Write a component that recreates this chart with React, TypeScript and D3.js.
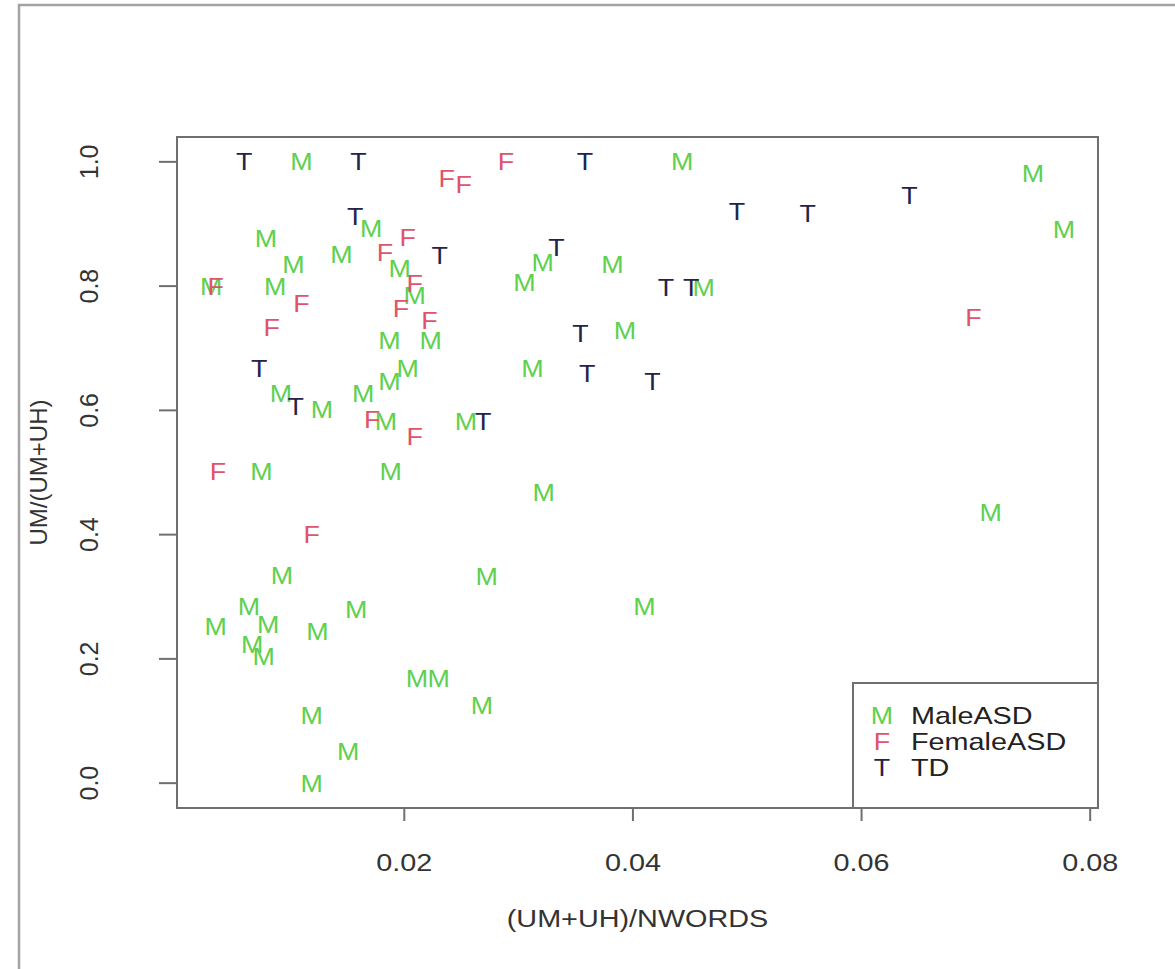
import * as d3 from "d3";

// points: [ (UM+UH)/NWORDS , UM/(UM+UH) ]
const maleASD: [number, number][] = [
  [0.011, 1.0], [0.0443, 1.0], [0.075, 0.981], [0.0777, 0.891],
  [0.0171, 0.893], [0.0079, 0.877], [0.0145, 0.851], [0.0103, 0.835],
  [0.0196, 0.829], [0.0031, 0.8], [0.0087, 0.8], [0.0209, 0.785],
  [0.0321, 0.838], [0.0382, 0.835], [0.0305, 0.806], [0.0462, 0.798],
  [0.0393, 0.729], [0.0312, 0.667], [0.0187, 0.712], [0.0223, 0.712],
  [0.0203, 0.668], [0.0187, 0.647], [0.0164, 0.628], [0.0092, 0.628],
  [0.0128, 0.601], [0.0184, 0.583], [0.0254, 0.582], [0.0075, 0.502],
  [0.0188, 0.502], [0.0322, 0.468], [0.0713, 0.436], [0.0093, 0.335],
  [0.0272, 0.333], [0.041, 0.285], [0.0064, 0.285], [0.0158, 0.279],
  [0.0035, 0.253], [0.0081, 0.256], [0.0124, 0.244], [0.0067, 0.224],
  [0.0077, 0.204], [0.0211, 0.168], [0.023, 0.168], [0.0268, 0.125],
  [0.0119, 0.109], [0.0151, 0.051], [0.0119, 0.0],
];

const femaleASD: [number, number][] = [
  [0.0237, 0.974], [0.0252, 0.963], [0.0289, 1.0], [0.0203, 0.878],
  [0.0183, 0.854], [0.0035, 0.8], [0.0209, 0.804], [0.011, 0.772],
  [0.0084, 0.734], [0.0197, 0.764], [0.0222, 0.745], [0.0172, 0.585],
  [0.0209, 0.558], [0.0037, 0.502], [0.0119, 0.401], [0.0698, 0.75],
];

const td: [number, number][] = [
  [0.006, 1.0], [0.016, 1.0], [0.0358, 1.0], [0.0157, 0.912],
  [0.0231, 0.849], [0.0333, 0.862], [0.0491, 0.92], [0.0553, 0.917],
  [0.0642, 0.946], [0.0429, 0.798], [0.0451, 0.798], [0.0354, 0.724],
  [0.036, 0.66], [0.0417, 0.647], [0.0073, 0.668], [0.0105, 0.606],
  [0.0269, 0.582],
];

const xTicks = [0.02, 0.04, 0.06, 0.08];
const yTicks = [0, 0.2, 0.4, 0.6, 0.8, 1.0];

const groups = [
  { key: "M", label: "MaleASD", color: "#5fd04f", pts: maleASD },
  { key: "F", label: "FemaleASD", color: "#df536b", pts: femaleASD },
  { key: "T", label: "TD", color: "#23234a", pts: td },
];

const W = 1175;
const H = 969;
const BOX = { left: 177, right: 1098, top: 137, bottom: 808 };
const FONT = "'Liberation Sans', Arial, Helvetica, sans-serif";
const SX = 1.2; // the picture is stretched sideways

// R style axis range: data extent plus 4% each side
function padded(ext: [number, number]): [number, number] {
  const r = ext[1] - ext[0];
  return [ext[0] - 0.04 * r, ext[1] + 0.04 * r];
}

export default function App() {
  const all = groups.flatMap((g) => g.pts);
  const x = d3
    .scaleLinear()
    .domain(padded(d3.extent(all, (d) => d[0]) as [number, number]))
    .range([BOX.left, BOX.right]);
  const y = d3
    .scaleLinear()
    .domain(padded(d3.extent(all, (d) => d[1]) as [number, number]))
    .range([BOX.bottom, BOX.top]);

  const fmtX = d3.format(".2f");
  const fmtY = d3.format(".1f");

  const legend = { left: 853, top: 683, right: BOX.right, bottom: BOX.bottom };

  return (
    <svg
      width={W}
      height={H}
      style={{ position: "absolute", left: 0, top: 0, background: "#fff" }}
      fontFamily={FONT}
    >
      {/* outer frame */}
      <rect x={19} y={5} width={W + 40} height={H + 40} fill="none" stroke="#a3a3a3" strokeWidth={2.5} />

      {/* points as letters */}
      {groups.map((g) =>
        g.pts.map((d, i) => (
          <text
            key={g.key + i}
            transform={`translate(${x(d[0])},${y(d[1]) + 8.6}) scale(${1.12},1)`}
            textAnchor="middle"
            fontSize={24}
            fill={g.color}
          >
            {g.key}
          </text>
        ))
      )}

      {/* plot box */}
      <rect
        x={BOX.left}
        y={BOX.top}
        width={BOX.right - BOX.left}
        height={BOX.bottom - BOX.top}
        fill="none"
        stroke="#6f6f6f"
        strokeWidth={2}
      />

      {/* x axis */}
      {xTicks.map((t) => (
        <g key={"x" + t}>
          <line x1={x(t)} x2={x(t)} y1={BOX.bottom} y2={BOX.bottom + 13} stroke="#6f6f6f" strokeWidth={2} />
          <text
            transform={`translate(${x(t)},871) scale(${SX},1)`}
            textAnchor="middle"
            fontSize={24}
            fill="#333"
          >
            {fmtX(t)}
          </text>
        </g>
      ))}

      {/* y axis */}
      {yTicks.map((t) => (
        <g key={"y" + t}>
          <line x1={BOX.left - 18} x2={BOX.left} y1={y(t)} y2={y(t)} stroke="#6f6f6f" strokeWidth={2} />
          <text
            transform={`translate(98,${y(t)}) rotate(-90)`}
            textAnchor="middle"
            fontSize={25}
            fill="#333"
          >
            {fmtY(t)}
          </text>
        </g>
      ))}

      {/* axis titles */}
      <text
        transform={`translate(${(BOX.left + BOX.right) / 2},927) scale(${SX},1)`}
        textAnchor="middle"
        fontSize={24}
        fill="#333"
      >
        (UM+UH)/NWORDS
      </text>
      <text
        transform={`translate(47,${(BOX.top + BOX.bottom) / 2}) rotate(-90)`}
        textAnchor="middle"
        fontSize={24}
        fill="#333"
      >
        UM/(UM+UH)
      </text>

      {/* legend */}
      <rect
        x={legend.left}
        y={legend.top}
        width={legend.right - legend.left}
        height={legend.bottom - legend.top}
        fill="#fff"
        stroke="#6f6f6f"
        strokeWidth={2}
      />
      {groups.map((g, i) => (
        <g key={"leg" + g.key}>
          <text
            transform={`translate(882,${724 + i * 26}) scale(${1.12},1)`}
            textAnchor="middle"
            fontSize={24}
            fill={g.color}
          >
            {g.key}
          </text>
          <text
            transform={`translate(911,${724 + i * 26}) scale(${SX},1)`}
            fontSize={24}
            fill="#222"
          >
            {g.label}
          </text>
        </g>
      ))}
    </svg>
  );
}
